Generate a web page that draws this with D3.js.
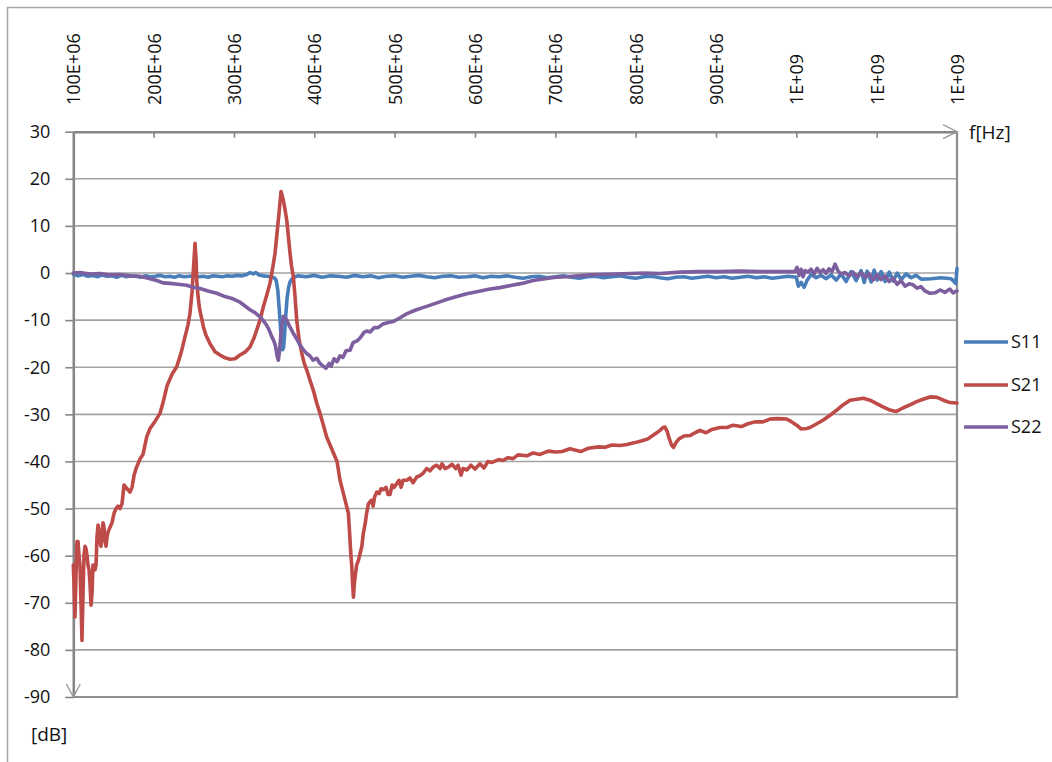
<!DOCTYPE html>
<html>
<head>
<meta charset="utf-8">
<script src="https://cdn.jsdelivr.net/npm/d3@7"></script>
<style>
  html, body { margin: 0; padding: 0; background: #ffffff; }
  svg text { font-family: "Open Sans", "Noto Sans", sans-serif; fill: #111; }
</style>
</head>
<body>
<svg id="chart" width="1052" height="762"></svg>
<script>
// ---- data (frequency in MHz, level in dB) ----
const xTickValues = [100, 200, 300, 400, 500, 600, 700, 800, 900, 1000, 1100, 1200];
const xTickLabels = ["100E+06", "200E+06", "300E+06", "400E+06", "500E+06", "600E+06",
                     "700E+06", "800E+06", "900E+06", "1E+09", "1E+09", "1E+09"];
const yTickValues = [-90, -80, -70, -60, -50, -40, -30, -20, -10, 0, 10, 20, 30];
const seriesNames = ["S11", "S21", "S22"];
const seriesColors = ["#4A7EBB", "#BE4B48", "#7D5FA0"];

const s11 = [
  [100,-0.2],[106,-0.6],[112,-0.3],[118,-0.7],[124,-0.5],[130,-0.8],[136,-0.4],[142,-0.7],
  [148,-0.6],[154,-0.9],[160,-0.5],[166,-0.8],[172,-0.6],[178,-0.7],[184,-0.9],[190,-0.6],
  [196,-0.8],[202,-0.7],[208,-0.5],[214,-0.8],[220,-0.7],[226,-0.9],[232,-0.6],[238,-0.8],
  [244,-0.7],[250,-0.6],[256,-0.8],[262,-0.7],[268,-0.9],[274,-0.6],[280,-0.7],[286,-0.8],
  [292,-0.6],[298,-0.7],[304,-0.5],[310,-0.6],[316,-0.3],[320,0.1],[324,-0.2],[327,0.1],
  [331,-0.4],[336,-0.6],[341,-0.7],[346,-0.8],[350,-1.0],[352.5,-1.5],[354.5,-3.6],[356.5,-8],
  [358.5,-13],[360.5,-16.3],[361.8,-15.8],[363,-13],[364.5,-9],[366,-5.5],[368,-3],[370,-1.8],
  [372.5,-1.2],[376,-0.8],[380,-0.6],[390,-0.8],[400,-0.5],[410,-0.9],[420,-0.6],[430,-0.7],
  [440,-0.9],[450,-0.5],[460,-0.8],[470,-0.6],[480,-1.0],[490,-0.7],[500,-0.6],[510,-0.9],
  [520,-0.7],[530,-0.5],[540,-0.8],[550,-1.0],[560,-0.7],[570,-0.6],[580,-0.9],[590,-0.8],
  [600,-0.6],[610,-1.0],[620,-0.7],[630,-0.8],[640,-0.6],[650,-0.9],[660,-1.1],[670,-0.8],
  [680,-0.7],[690,-1.0],[700,-0.8],[710,-0.6],[720,-0.9],[730,-1.1],[740,-0.8],[750,-0.7],
  [760,-1.0],[770,-0.8],[780,-0.6],[790,-0.9],[800,-1.1],[810,-0.8],[820,-0.7],[830,-1.0],
  [840,-1.2],[850,-0.9],[860,-0.8],[870,-1.1],[880,-0.9],[890,-0.7],[900,-1.0],[910,-0.8],
  [920,-1.1],[930,-0.9],[940,-0.7],[950,-1.0],[960,-0.8],[970,-1.1],[980,-0.9],[990,-0.7],
  [1000,-0.9],[1002.5,-2.8],[1006,-2],[1009.8,-3],[1013.5,-1.5],[1018.5,-0.3],[1024.7,-1],
  [1031,-0.5],[1037.2,-1.2],[1043.4,-0.4],[1049.6,-1.5],[1055.8,-0.2],[1062,-1.8],[1068.3,0.3],
  [1074.5,-1.6],[1080.7,0.5],[1084.5,-2],[1088.2,0.4],[1093.2,-1.9],[1096.9,0.6],[1100.7,-1.5],
  [1105.6,0.3],[1110.6,-1.8],[1115.6,0.2],[1120.6,-1.7],[1125.5,0],[1130.5,-1.4],[1136.7,-0.2],
  [1143,-1],[1149.2,-0.5],[1155.4,-1.3],[1167.9,-1.2],[1180.3,-1],[1192.8,-1.2],[1198.5,-2.2],
  [1200,1.0]
];

const s21 = [
  [100,-62],[100.9,-66],[102.1,-73],[103.4,-64],[104.6,-57],[105.9,-57],[107.1,-60],[108.3,-62],
  [109.6,-70],[110.8,-78],[112.1,-68],[113.3,-60],[114.6,-58],[115.8,-58.5],[117.1,-60],[118.3,-62],
  [119.6,-63],[120.8,-66],[122.1,-70.5],[123.3,-68],[124.5,-62],[125.8,-62],[127,-63],[128.3,-62],
  [129.5,-56],[130.8,-53.5],[132,-55],[133.2,-57],[134.5,-58],[135.7,-55],[137,-53],[138.2,-54],
  [139.5,-57],[140.7,-58],[142,-56],[143.2,-55],[145.7,-54],[148.2,-53],[150.7,-51],[153.2,-50],
  [155.6,-49.5],[158.1,-50],[160.6,-49],[161.9,-47],[163.1,-45],[165.6,-45.5],[168.1,-46],
  [170.6,-46.5],[173.1,-45.5],[175.6,-43],[178.1,-41.5],[180.5,-40.5],[183,-39.5],[186.8,-38.5],
  [191.4,-34.8],[195.5,-33],[201.7,-31.5],[207.9,-29.8],[211.7,-27.5],[216.6,-24],[222.9,-21.5],
  [228.7,-19.9],[234.1,-17],[239.1,-13.5],[242.8,-11],[245.3,-8.5],[247.8,-4],[249.6,1],
  [251.5,6.3],[252.8,3],[253.6,-1.5],[255.3,-5],[257.1,-7.5],[259.6,-9.5],[261.9,-11.4],
  [265.2,-13.2],[270.2,-15],[276.4,-16.7],[282.6,-17.4],[288.9,-18],[295.1,-18.3],[301.3,-18.2],
  [307.5,-17.4],[313.7,-16.8],[319.9,-15.7],[324.9,-13.8],[328.3,-12.1],[332.4,-10],[336.5,-7.2],
  [341.1,-4.5],[344.8,-2.2],[348.6,1.5],[351.1,4.2],[353.6,8.5],[355.2,11.2],[357.3,15],
  [358.6,17.3],[359.8,16.5],[361.4,15.5],[363.5,13.5],[365.7,11.2],[367.9,7.5],[369.8,4.2],
  [371.6,1.5],[373.9,-0.8],[376,-5],[378.1,-10],[381,-14],[384.4,-17],[387.2,-19],[390.6,-20.6],
  [394.7,-22.8],[398.8,-24.9],[402.8,-27.5],[407.1,-29.8],[410.8,-32],[415.4,-34.8],[419.6,-36.5],
  [425.8,-39],[428.3,-40],[432,-44],[435.8,-46.5],[438.3,-48.2],[442.4,-51],[443.9,-55],
  [445.2,-59],[446.7,-62.4],[447.7,-66],[448.7,-68.8],[449.8,-66],[450.8,-64.5],[452.7,-62],
  [454.9,-61],[457,-59.5],[459.2,-58],[460.8,-55.5],[463.3,-53.2],[465.1,-51],[467.4,-49],
  [469.5,-48.5],[471.6,-48.2],[473.2,-49.5],[475.1,-47.5],[477.8,-46.5],[480.6,-46.8],[483.1,-45.8],
  [486,-46],[489.3,-45.5],[491.8,-47],[494.3,-47],[496.8,-45],[499.2,-45.5],[502.6,-44.7],
  [505.5,-44],[508,-45.5],[510.5,-44],[515,-44],[519.1,-43.5],[522.9,-44.5],[527.5,-43.3],
  [531.6,-43],[535.4,-42.5],[539.9,-41.5],[544,-42],[547.8,-41.2],[552.4,-40.8],[556.5,-41.5],
  [559,-40.5],[562.7,-41.5],[566.8,-41.2],[571.4,-40.6],[576,-41.5],[578.9,-40.8],[582.6,-42.9],
  [585.1,-41.5],[590,-41.8],[595,-40.8],[600,-41.6],[606.2,-40.5],[611.2,-41.4],[616.1,-40],
  [621.1,-40.2],[629.4,-39.6],[634.9,-39.8],[641.1,-39.2],[647.4,-39.4],[653.6,-38.6],[664.8,-38.8],
  [672.3,-38.2],[681,-38.5],[691,-37.8],[700.5,-38],[708.4,-37.9],[718.3,-37.3],[731.6,-37.9],
  [740.7,-37.2],[753.9,-36.9],[761.9,-37],[770.6,-36.5],[780.5,-36.6],[789.3,-36.4],[799.2,-36],
  [807.9,-35.6],[815.4,-35.2],[820.4,-34.6],[825.4,-34],[830.3,-33.4],[834.1,-32.8],[836.5,-32.7],
  [839,-33.5],[841.5,-35],[844.6,-36.5],[847.1,-37],[850.2,-36],[853.9,-35.2],[860.2,-34.6],
  [867.6,-34.5],[875.1,-33.8],[880.1,-33.4],[887.5,-33.9],[895,-33.2],[905,-32.8],[913.7,-32.8],
  [921.2,-32.3],[931.6,-32.6],[939.8,-32],[948.5,-31.6],[958.3,-31.6],[967.2,-31],[977.2,-30.9],
  [988,-31],[993.4,-31.5],[1000.5,-32.3],[1005.8,-33.1],[1012.9,-33],[1017,-32.8],[1023.3,-32.2],
  [1033.6,-31.2],[1042,-30.2],[1050.3,-29.1],[1058.1,-28],[1066.8,-27],[1075.5,-26.8],[1083.4,-26.6],
  [1091.7,-27],[1100,-27.7],[1107.9,-28.4],[1116.6,-29.1],[1124,-29.4],[1133.2,-28.6],[1141.5,-28],
  [1149.8,-27.3],[1157.7,-26.8],[1166.4,-26.3],[1175.1,-26.4],[1183,-27],[1191.3,-27.5],[1200,-27.6]
];

const s22 = [
  [100,0],[108.3,0.1],[120.8,-0.2],[133.2,-0.1],[145.7,-0.4],[158.1,-0.3],[170.6,-0.6],[183,-0.7],
  [195.5,-1.2],[203.8,-1.6],[211.7,-2.1],[220.4,-2.2],[230.3,-2.4],[241.2,-2.6],[249,-3],
  [257.7,-3.3],[267.7,-3.8],[278.5,-4.3],[288.8,-5],[297.5,-5.4],[307.5,-6.2],[313.7,-7],
  [319.9,-7.8],[326.1,-8.4],[332.4,-9.3],[336.1,-10],[340.7,-11.1],[343.6,-12],[347,-13.5],
  [349.8,-14.5],[351.7,-15.5],[353.6,-17.5],[355.2,-18.5],[356.7,-16.5],[358.2,-13.5],[359.8,-11],
  [361.4,-9.2],[363.5,-9.5],[365.7,-10],[369.8,-11.5],[373.9,-12.8],[378.1,-14],[382.2,-15.3],
  [385.9,-16.2],[390.6,-17.1],[394.7,-17.6],[398.4,-18.5],[403,-18.1],[407.1,-19.2],[411.3,-19.8],
  [414.6,-20.2],[418.4,-19.2],[420.9,-19.8],[424.6,-18.2],[428.3,-18.8],[432,-17.6],[435.8,-17.9],
  [439.5,-16.5],[444.5,-16.4],[448.2,-14.8],[453.2,-14.4],[457,-13.8],[461.9,-12.6],[465.6,-12.3],
  [469.4,-12.5],[474.4,-11.6],[479.4,-11.6],[485.6,-10.8],[491.8,-10.5],[498,-10.3],[506.8,-9.5],
  [515.5,-8.6],[525.4,-7.9],[534.2,-7.4],[548.2,-6.6],[561.5,-5.8],[575.2,-5.1],[589.8,-4.4],
  [603.8,-3.9],[618.7,-3.4],[631.2,-3.1],[646.1,-2.6],[658.6,-2.2],[672.3,-1.6],[687.2,-1.2],
  [700.9,-0.9],[714.6,-0.8],[728.3,-0.6],[743.2,-0.4],[755.6,-0.3],[774.3,-0.2],[793,-0.1],
  [811.6,0],[830.3,-0.1],[855.2,0.2],[880.1,0.3],[905,0.3],[929.9,0.4],[954.8,0.3],[979.7,0.3],
  [998.4,0.3],[1000.9,1.2],[1003.4,-0.5],[1005.9,0.8],[1008.4,-0.8],[1010.9,0.5],[1014.6,0.2],
  [1018.3,0.8],[1022.1,-0.2],[1025.8,1],[1029.5,0.1],[1033.3,0.7],[1037,-0.1],[1040.7,0.9],
  [1044.5,0.3],[1048.2,1.9],[1052,0.4],[1055.7,-0.2],[1060.7,0.1],[1065.6,-0.6],[1070.6,0.2],
  [1075.6,-0.8],[1080.6,0.1],[1085.5,-0.9],[1090.5,-0.2],[1095.5,-1.5],[1100.5,-0.4],[1105.4,-1.4],
  [1110.4,-0.6],[1115.4,-1.8],[1120.4,-1.1],[1125.4,-2.4],[1130.3,-1.6],[1135.3,-2.8],[1140.3,-2.3],
  [1145.3,-2.5],[1150.2,-3.2],[1155.2,-2.9],[1160.2,-3.8],[1166.4,-4.3],[1172.7,-4.2],[1178.9,-3.6],
  [1185.1,-4.1],[1191.3,-3.4],[1195.1,-4.2],[1200,-3.8]
];

// ---- layout ----
const svg = d3.select("#chart");
const plotLeft = 73.3, plotRight = 957, plotTop = 131.7, plotBottom = 697;

const x = d3.scaleLinear().domain([100, 1200]).range([plotLeft, plotRight]);
const y = d3.scaleLinear().domain([-90, 30]).range([plotBottom, plotTop]);

// outer chart border
svg.append("rect")
  .attr("x", 7.5).attr("y", 7.5).attr("width", 1100).attr("height", 800)
  .attr("fill", "none").attr("stroke", "#a6a6a6").attr("stroke-width", 1.5);

// gridlines
svg.append("g").selectAll("line").data(yTickValues).join("line")
  .attr("x1", plotLeft).attr("x2", plotRight)
  .attr("y1", d => y(d)).attr("y2", d => y(d))
  .attr("stroke", "#a3a3a3").attr("stroke-width", 1.6);

// plot area right/bottom border
svg.append("path")
  .attr("d", `M${plotRight},${plotTop}V${plotBottom}H${plotLeft}`)
  .attr("fill", "none").attr("stroke", "#8f8f8f").attr("stroke-width", 2.2);

// y axis
const yAxis = svg.append("g")
  .attr("transform", `translate(${plotLeft},0)`)
  .call(d3.axisLeft(y).tickValues(yTickValues).tickSizeInner(8).tickSizeOuter(0).tickPadding(15)
        .tickFormat(d3.format("d")));
yAxis.select(".domain").attr("stroke", "#868686").attr("stroke-width", 2.6);
yAxis.selectAll(".tick line").attr("stroke", "#868686").attr("stroke-width", 1.6);
yAxis.selectAll(".tick text").attr("font-size", 18).attr("fill", "#111")
  .style("font-family", "'Open Sans', sans-serif").text(d => d < 0 ? "-" + Math.abs(d) : d);

// x axis (top)
const xAxis = svg.append("g")
  .attr("transform", `translate(0,${plotTop})`)
  .call(d3.axisTop(x).tickValues(xTickValues).tickSizeInner(-6).tickSizeOuter(0)
        .tickFormat((d, i) => xTickLabels[i]));
xAxis.select(".domain").attr("stroke", "#868686").attr("stroke-width", 2.6);
xAxis.selectAll(".tick line").attr("stroke", "#868686").attr("stroke-width", 1.6)
  .attr("opacity", (d, i) => (i === 0 || i === xTickValues.length - 1) ? 0 : 1);
xAxis.selectAll(".tick text")
  .attr("transform", "rotate(-90)")
  .attr("x", plotTop - 105).attr("y", 0).attr("dy", "0.36em")
  .attr("text-anchor", "start")
  .attr("font-size", 18).attr("fill", "#111")
  .style("font-family", "'Open Sans', sans-serif");

// axis arrows
svg.append("path")
  .attr("d", `M${plotRight - 14},${plotTop - 7}L${plotRight},${plotTop}L${plotRight - 14},${plotTop + 7}`)
  .attr("fill", "none").attr("stroke", "#9a9a9a").attr("stroke-width", 1.4);
svg.append("path")
  .attr("d", `M${plotLeft - 7},${plotBottom - 13}L${plotLeft},${plotBottom}L${plotLeft + 7},${plotBottom - 13}`)
  .attr("fill", "none").attr("stroke", "#9a9a9a").attr("stroke-width", 1.4);

// unit labels
svg.append("text").attr("x", 969).attr("y", 138.5).attr("font-size", 19).text("f[Hz]");
svg.append("text").attr("x", 31).attr("y", 741).attr("font-size", 19).text("[dB]");

// series
const line = d3.line().x(d => x(d[0])).y(d => y(d[1]));
const allSeries = [s11, s21, s22];
svg.append("g").selectAll("path").data(allSeries).join("path")
  .attr("d", line)
  .attr("fill", "none")
  .attr("stroke", (d, i) => seriesColors[i])
  .attr("stroke-width", 3.6)
  .attr("stroke-linejoin", "round")
  .attr("stroke-linecap", "round");

// legend
const legendY = [342, 385, 427];
const lg = svg.append("g").selectAll("g").data(seriesNames).join("g")
  .attr("transform", (d, i) => `translate(0,${legendY[i]})`);
lg.append("line").attr("x1", 964).attr("x2", 1008).attr("y1", 0).attr("y2", 0)
  .attr("stroke", (d, i) => seriesColors[i]).attr("stroke-width", 3.4);
lg.append("text").attr("x", 1011).attr("y", 0).attr("dy", "0.36em")
  .attr("font-size", 18).text(d => d);
</script>
</body>
</html>
